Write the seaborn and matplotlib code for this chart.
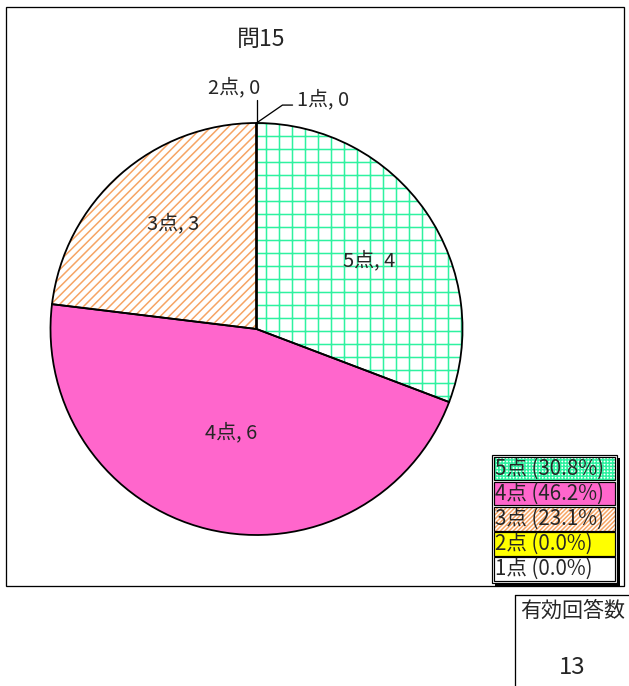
import numpy as np
import matplotlib
matplotlib.use('Agg')
import matplotlib.pyplot as plt
import seaborn as sns
from matplotlib.patches import Rectangle
from matplotlib.lines import Line2D

# ---- data ----
categories = ['5点', '4点', '3点', '2点', '1点']
counts = [4, 6, 3, 0, 0]
title = '問15'
n_label = '有効回答数'
n_value = '13'

# ---- styles ----
face_colors = ['white', '#FF66CC', 'white', '#FFFF00', 'white']
hatch_colors = ['#2EF2A0', None, '#F6A464', None, None]
hatches = ['+', None, '///', None, None]
legend_hatches = ['++++', None, '//////', None, None]

DPI = 78
W, H = 629, 686
sns.set_theme(style='white')
plt.rcParams['font.family'] = ['Noto Sans CJK JP', 'DejaVu Sans']
plt.rcParams['hatch.linewidth'] = 1.4


def pt(px):
    return px * 72 / DPI


def fx(px):
    return px / W


def fy(py):
    return 1 - py / H


fig = plt.figure(figsize=(W / DPI, H / DPI), dpi=DPI)
fig.patch.set_facecolor('white')

# outer frame
fig.add_artist(Rectangle((fx(6), fy(586)), fx(624) - fx(6), fy(7) - fy(586),
                         transform=fig.transFigure, fill=False,
                         edgecolor='black', lw=pt(1.3)))

fig.text(fx(261), fy(39), title, ha='center', va='center', fontsize=pt(23))

# ---- pie ----
cx, cy, R = 256.5, 329, 206
ax = fig.add_axes([fx(cx - R), fy(cy + R), 2 * R / W, 2 * R / H])
wedges, _ = ax.pie(counts, colors=face_colors, startangle=90, counterclock=False,
                   wedgeprops=dict(linewidth=0))
for w, h, hc in zip(wedges, hatches, hatch_colors):
    if h:
        w.set_hatch(h)
        w.set_edgecolor(hc)
        w.set_linewidth(0)
ax.pie(counts, colors=['none'] * len(counts), startangle=90, counterclock=False,
       wedgeprops=dict(fill=False, edgecolor='black', linewidth=pt(1.8)))
ax.set_xlim(-1, 1)
ax.set_ylim(-1, 1)
ax.set_axis_off()

label_pos = {'5点': (0.64, -3.5), '4点': (0.52, 0.0), '3点': (0.65, -3.0)}
for w, cat, c in zip(wedges, categories, counts):
    if c > 0:
        r, dth = label_pos[cat]
        th = np.deg2rad((w.theta1 + w.theta2) / 2 + dth)
        ax.text(r * np.cos(th), r * np.sin(th), f'{cat}, {c}', ha='center',
                va='center', fontsize=pt(20))

# zero-value labels with leader lines
w2 = wedges[3]
t2 = np.deg2rad(w2.theta1)
tipx, tipy = np.cos(t2), np.sin(t2)
ax.plot([tipx, tipx], [tipy, tipy + 0.113], color='black', lw=pt(1.3), clip_on=False)
ax.text(tipx + 0.017, tipy + 0.17, f'{categories[3]}, {counts[3]}', ha='right',
        va='center', fontsize=pt(20))
ax.plot([tipx, tipx + 0.126, tipx + 0.175], [tipy, tipy + 0.087, tipy + 0.087],
        color='black', lw=pt(1.3), clip_on=False)
ax.text(tipx + 0.198, tipy + 0.112, f'{categories[4]}, {counts[4]}', ha='left',
        va='center', fontsize=pt(20))

# ---- legend ----
total = sum(counts)
lx0, lx1, ly0, ly1 = 492, 617, 455, 583
fig.add_artist(Rectangle((fx(lx0 + 3), fy(ly1 + 3)), fx(lx1) - fx(lx0), fy(ly0) - fy(ly1),
                         transform=fig.transFigure, facecolor='black', edgecolor='black', lw=0))
fig.add_artist(Rectangle((fx(lx0), fy(ly1)), fx(lx1) - fx(lx0), fy(ly0) - fy(ly1),
                         transform=fig.transFigure, facecolor='white', edgecolor='black', lw=pt(1.2)))
row_h = (ly1 - ly0 - 2) / len(categories)
for i, (cat, c) in enumerate(zip(categories, counts)):
    top = ly0 + 1.5 + i * row_h
    bot = top + row_h - 1.5
    x0, x1 = lx0 + 2, lx1 - 2
    h = legend_hatches[i]
    rect = Rectangle((fx(x0), fy(bot)), fx(x1) - fx(x0), fy(top) - fy(bot),
                     transform=fig.transFigure, facecolor=face_colors[i],
                     edgecolor=hatch_colors[i] if h else 'none', lw=0, hatch=h)
    fig.add_artist(rect)
    fig.add_artist(Rectangle((fx(x0), fy(bot)), fx(x1) - fx(x0), fy(top) - fy(bot),
                             transform=fig.transFigure, fill=False,
                             edgecolor='black', lw=pt(1.2)))
    pct = 100 * c / total
    fig.text(fx(x0 + 1), fy((top + bot) / 2), f'{cat} ({pct:.1f}%)', ha='left',
             va='center', fontsize=pt(20.5))

# ---- valid responses box ----
fig.add_artist(Line2D([fx(515), fx(515)], [fy(595), fy(686)], transform=fig.transFigure,
                      color='black', lw=pt(1.3)))
fig.add_artist(Line2D([fx(515), fx(629)], [fy(595), fy(595)], transform=fig.transFigure,
                      color='black', lw=pt(1.3)))
fig.text(fx(573), fy(611), n_label, ha='center', va='center', fontsize=pt(21))
fig.text(fx(572), fy(668), n_value, ha='center', va='center', fontsize=pt(24))

fig.savefig('out.png', dpi=DPI, facecolor='white')
